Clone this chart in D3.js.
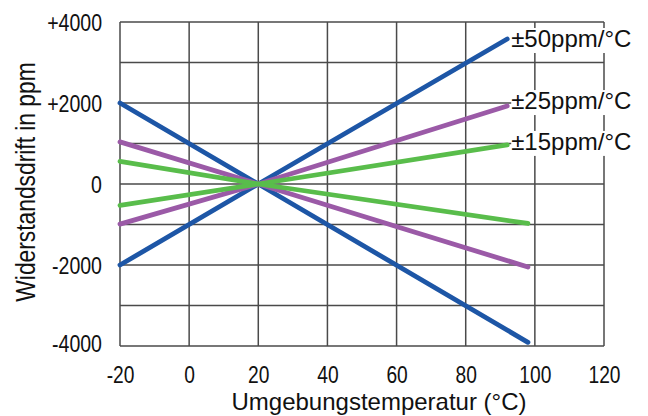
<!DOCTYPE html>
<html>
<head>
<meta charset="utf-8">
<script src="https://cdn.jsdelivr.net/npm/d3@7"></script>
<style>
  html, body { margin: 0; padding: 0; background: #fff; }
  svg { display: block; font-family: "Liberation Sans", Arial, sans-serif; }
</style>
</head>
<body>
<svg id="chart" width="648" height="416"></svg>
<script>
// ---- data ----
const seriesLabels = ["±50ppm/°C", "±25ppm/°C", "±15ppm/°C"];
const seriesColors = ["#1d56a6", "#9b5aa7", "#59bd4b"];
const upTemps   = [-20, 20, 92];
const downTemps = [-20, 20, 98];
const up50   = [-2000, 0, 3580];
const down50 = [2000, 0, -3910];
const up25   = [-990, 0, 1925];
const down25 = [1040, 0, -2050];
const up15   = [-530, 0, 965];
const down15 = [560, 0, -975];
const xTicks = [-20, 0, 20, 40, 60, 80, 100, 120];
const xTickLabels = ["-20", "0", "20", "40", "60", "80", "100", "120"];
const yGrid  = [-4000, -3000, -2000, -1000, 0, 1000, 2000, 3000, 4000];
const yTickValues = [4000, 2000, 0, -2000, -4000];
const yTickLabels = ["+4000", "+2000", "0", "-2000", "-4000"];
const xTitle = "Umgebungstemperatur (°C)";
const yTitle = "Widerstandsdrift in ppm";

const ups = [up50, up25, up15];
const downs = [down50, down25, down15];

// ---- layout ----
const svg = d3.select("#chart");
const mLeft = 120, mRight = 604, mTop = 22, mBottom = 346;
const x = d3.scaleLinear().domain([-20, 120]).range([mLeft, mRight]);
const y = d3.scaleLinear().domain([-4000, 4000]).range([mBottom, mTop]);

// grid
const grid = svg.append("g").attr("stroke", "#4a4a4a").attr("stroke-width", 1.5);
grid.selectAll("line.h").data(yGrid).join("line").attr("class", "h")
  .attr("x1", mLeft).attr("x2", mRight)
  .attr("y1", d => y(d)).attr("y2", d => y(d));
grid.selectAll("line.v").data(xTicks).join("line").attr("class", "v")
  .attr("y1", mTop).attr("y2", mBottom)
  .attr("x1", d => x(d)).attr("x2", d => x(d));

// axis tick labels using d3 axes
const yAxis = d3.axisLeft(y).tickValues(yTickValues)
  .tickFormat((d, i) => yTickLabels[i]).tickSize(0).tickPadding(0);
const gy = svg.append("g").attr("transform", `translate(${mLeft - 18},0)`).call(yAxis);
gy.select(".domain").remove();
gy.selectAll("text")
  .attr("font-size", 23).attr("fill", "#111")
  .attr("font-family", "'Liberation Sans', Arial, sans-serif")
  .attr("dy", null).attr("x", 0)
  .attr("y", d => d === -4000 ? 5.5 : 8.5)
  .attr("transform", "scale(0.85,1)");

const xAxis = d3.axisBottom(x).tickValues(xTicks)
  .tickFormat((d, i) => xTickLabels[i]).tickSize(0).tickPadding(0);
const gx = svg.append("g").attr("transform", `translate(0,${mBottom})`).call(xAxis);
gx.select(".domain").remove();
gx.selectAll("text")
  .attr("font-size", 24).attr("fill", "#111")
  .attr("font-family", "'Liberation Sans', Arial, sans-serif")
  .attr("dy", null).attr("y", 37)
  .attr("transform", "scale(0.8,1)")
  .attr("text-anchor", "middle");

// titles
svg.append("text")
  .attr("x", 379).attr("y", 410)
  .attr("text-anchor", "middle")
  .attr("font-size", 24).attr("fill", "#111")
  .text(xTitle);
svg.append("text")
  .attr("transform", `translate(35,182) rotate(-90) scale(0.8,1)`)
  .attr("text-anchor", "middle")
  .attr("font-size", 28.5).attr("fill", "#111")
  .text(yTitle);

// lines
const line = d3.line().x(d => x(d[0])).y(d => y(d[1]));
const lines = svg.append("g").attr("fill", "none").attr("stroke-width", 4.8)
  .attr("stroke-linecap", "round").attr("stroke-linejoin", "round");
seriesLabels.forEach((lab, i) => {
  const up = upTemps.map((t, j) => [t, ups[i][j]]);
  const dn = downTemps.map((t, j) => [t, downs[i][j]]);
  lines.append("path").attr("d", line(up)).attr("stroke", seriesColors[i]);
  lines.append("path").attr("d", line(dn)).attr("stroke", seriesColors[i]);
});

// series labels with white background
const labOffsets = [8, 3, 5];
const lg = svg.append("g");
seriesLabels.forEach((lab, i) => {
  const endY = ups[i][ups[i].length - 1];
  const tx = x(upTemps[upTemps.length - 1]) + 4;
  const ty = y(endY) + labOffsets[i];
  const bg = lg.append("rect").attr("fill", "#fff");
  const t = lg.append("text").attr("x", tx).attr("y", ty)
    .attr("font-size", 24).attr("fill", "#111").text(lab);
  const bb = t.node().getBBox();
  bg.attr("x", bb.x).attr("y", ty - 19).attr("width", bb.width).attr("height", 25);
});
</script>
</body>
</html>
